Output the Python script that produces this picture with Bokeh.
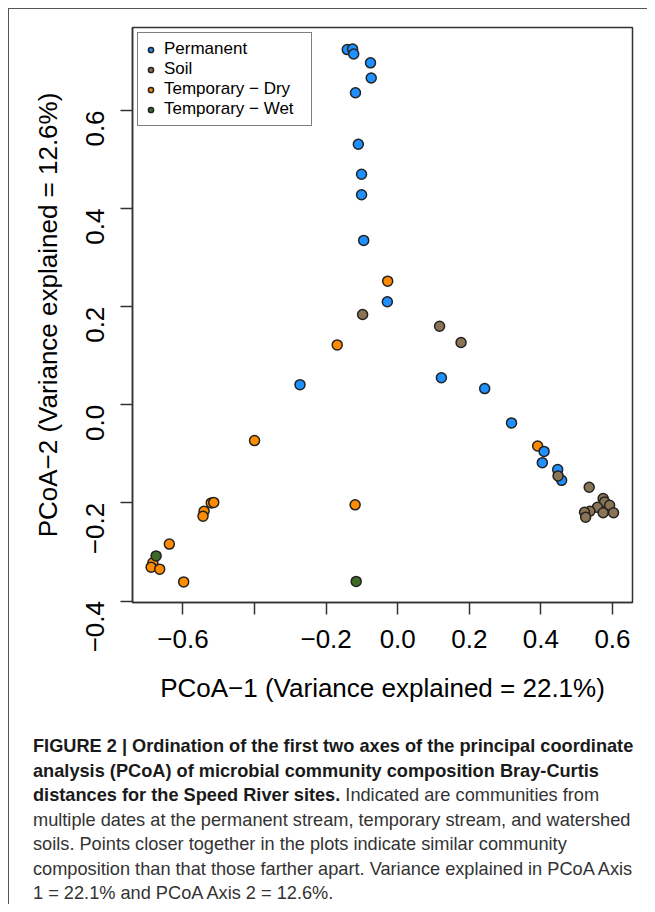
import math
from bokeh.plotting import figure
from bokeh.models import (Range1d, FixedTicker, Legend, LegendItem, Div,
                          ColumnDataSource)
from bokeh.layouts import column
from bokeh.embed import file_html
from bokeh.resources import INLINE

# ---------------- data ----------------
perm_x = [-0.141, -0.126, -0.123, -0.076, -0.074, -0.118, -0.110, -0.101, -0.101, -0.095,
          -0.029, -0.273, 0.122, 0.243, 0.318, 0.409, 0.404, 0.447, 0.458]
perm_y = [0.724, 0.725, 0.715, 0.697, 0.666, 0.636, 0.531, 0.470, 0.428, 0.335,
          0.210, 0.041, 0.055, 0.033, -0.037, -0.095, -0.118, -0.132, -0.154]

soil_x = [-0.098, 0.117, 0.177, 0.448, 0.535, 0.574, 0.578, 0.558, 0.592, 0.537,
          0.522, 0.525, 0.574, 0.603]
soil_y = [0.184, 0.160, 0.127, -0.145, -0.168, -0.191, -0.198, -0.209, -0.205, -0.217,
          -0.219, -0.229, -0.220, -0.220]

dry_x = [-0.028, -0.169, -0.400, -0.119, -0.521, -0.514, -0.541, -0.544, -0.638, -0.684,
         -0.689, -0.665, -0.598, 0.391]
dry_y = [0.252, 0.122, -0.073, -0.204, -0.200, -0.199, -0.217, -0.227, -0.284, -0.322,
         -0.331, -0.335, -0.361, -0.084]

wet_x = [-0.675, -0.116]
wet_y = [-0.308, -0.360]

group_names = ["Permanent", "Soil", "Temporary \u2212 Dry", "Temporary \u2212 Wet"]
group_colors = ["#1E90FF", "#8B7355", "#FF8C00", "#3D6B25"]

x_ticks = [-0.6, -0.4, -0.2, 0.0, 0.2, 0.4, 0.6]
x_tick_labels = ["\u22120.6", "", "\u22120.2", "0.0", "0.2", "0.4", "0.6"]
y_ticks = [-0.4, -0.2, 0.0, 0.2, 0.4, 0.6]
y_tick_labels = ["\u22120.4", "\u22120.2", "0.0", "0.2", "0.4", "0.6"]

x_title = "PCoA\u22121 (Variance explained = 22.1%)"
y_title = "PCoA\u22122 (Variance explained = 12.6%)"

X_LIMITS = (-0.741, 0.656)
Y_LIMITS = (-0.403, 0.769)

FONT = "Liberation Sans"

# ---------------- figure ----------------
p = figure(width=638, height=710,
           x_range=Range1d(*X_LIMITS), y_range=Range1d(*Y_LIMITS),
           output_backend="svg", toolbar_location=None,
           min_border_left=123, min_border_right=15,
           min_border_top=18, min_border_bottom=117,
           background_fill_color="white", border_fill_color="white")
p.xgrid.visible = False
p.ygrid.visible = False
p.outline_line_color = "#333333"
p.outline_line_width = 1.5

for ax in (p.xaxis[0], p.yaxis[0]):
    ax.axis_line_color = "#333333"
    ax.axis_line_width = 1.5
    ax.major_tick_line_color = "#333333"
    ax.major_tick_line_width = 1.5
    ax.major_tick_out = 12
    ax.major_tick_in = 0
    ax.minor_tick_line_color = None
    ax.major_label_text_font = FONT
    ax.major_label_text_font_size = "26px"
    ax.major_label_text_color = "black"
    ax.axis_label_text_font = FONT
    ax.axis_label_text_font_size = "26px"
    ax.axis_label_text_font_style = "normal"
    ax.axis_label_text_color = "black"

p.xaxis.ticker = FixedTicker(ticks=x_ticks)
p.xaxis.major_label_overrides = {t: l for t, l in zip(x_ticks, x_tick_labels)}
p.xaxis.major_label_standoff = 15
p.xaxis.axis_label = x_title
p.xaxis.axis_label_standoff = 22

p.yaxis.ticker = FixedTicker(ticks=y_ticks)
p.yaxis.major_label_overrides = {t: l for t, l in zip(y_ticks, y_tick_labels)}
p.yaxis.major_label_orientation = math.pi / 2
p.yaxis.major_label_standoff = 25
p.yaxis.axis_label = y_title
p.yaxis.axis_label_standoff = 12

series = {
    "Permanent": (perm_x, perm_y),
    "Soil": (soil_x, soil_y),
    "Temporary \u2212 Dry": (dry_x, dry_y),
    "Temporary \u2212 Wet": (wet_x, wet_y),
}
renderers = {}
draw_order = ["Temporary \u2212 Dry", "Permanent", "Soil", "Temporary \u2212 Wet"]
for name in draw_order:
    xs, ys = series[name]
    color = group_colors[group_names.index(name)]
    src = ColumnDataSource(dict(x=xs, y=ys))
    renderers[name] = p.scatter("x", "y", source=src, size=10, marker="circle",
                                fill_color=color, line_color="#222222",
                                line_width=1.5)

legend = Legend(items=[LegendItem(label=n, renderers=[renderers[n]]) for n in group_names],
                location="top_left", margin=5, padding=6, spacing=0,
                glyph_width=13, glyph_height=13, label_height=13,
                label_width=141, label_standoff=7,
                label_text_font=FONT, label_text_font_size="17px",
                label_text_color="black",
                border_line_color="black", border_line_width=1.5,
                background_fill_color="white", background_fill_alpha=1.0)
p.add_layout(legend)

caption_html = (
    '<div style="font-family: \'Liberation Sans\', Arial, sans-serif; font-size:18.2px; '
    'line-height:24.5px; color:#333; white-space:nowrap;">'
    '<b style="color:#1a1a1a;">FIGURE 2 | Ordination of the first two axes of the principal coordinate<br>'
    'analysis (PCoA) of microbial community composition Bray-Curtis<br>'
    'distances for the Speed River sites.</b> Indicated are communities from<br>'
    'multiple dates at the permanent stream, temporary stream, and watershed<br>'
    'soils. Points closer together in the plots indicate similar community<br>'
    'composition than that those farther apart. Variance explained in PCoA Axis<br>'
    '1 = 22.1% and PCoA Axis 2 = 12.6%.'
    '</div>'
)
caption = Div(text=caption_html, width=614, height=170, margin=(15, 0, 0, 24))

layout = column(p, caption, margin=(8, 0, 0, 8),
                styles={"border-top": "1px solid #555555",
                        "border-left": "1px solid #555555"})

open("out.html", "w").write(file_html(layout, INLINE))
